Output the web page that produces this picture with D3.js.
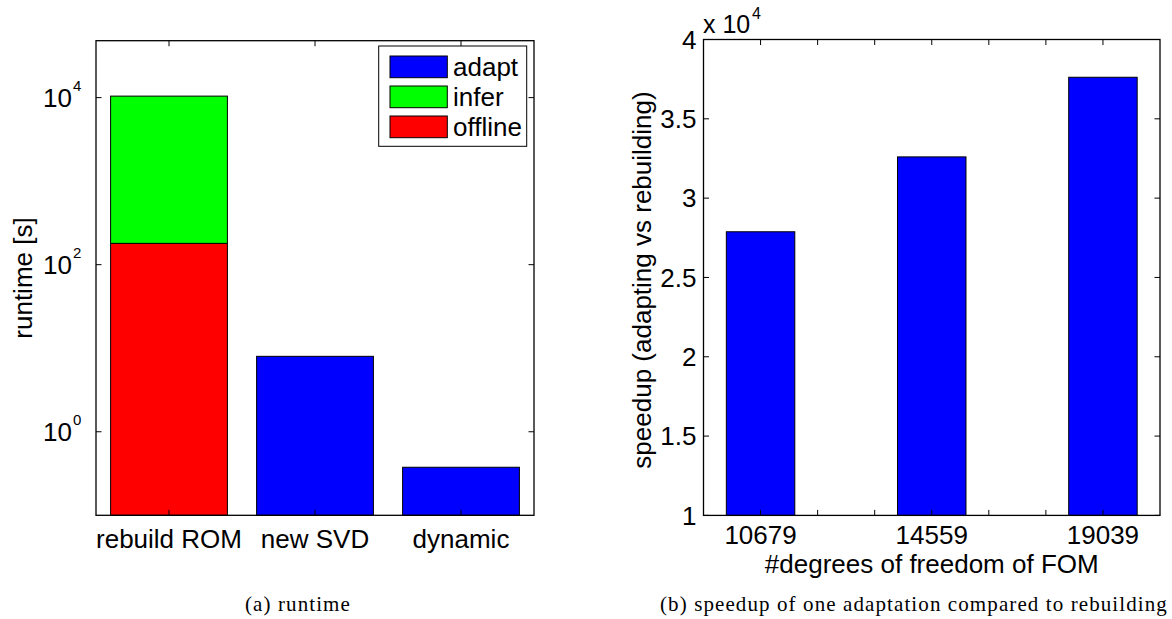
<!DOCTYPE html>
<html>
<head>
<meta charset="utf-8">
<script src="https://cdn.jsdelivr.net/npm/d3@7"></script>
<style>
  html, body { margin: 0; padding: 0; background: #fff; }
  svg { display: block; }
  .ax text { font-family: "Liberation Sans", Arial, Helvetica, sans-serif; fill: #000; }
  .cap { font-family: "Liberation Serif", "Times New Roman", serif; font-size: 21px; letter-spacing: 1.1px; fill: #000; }
</style>
</head>
<body>
<script>
// ---- runtime panel (log scale, stacked first bar) ----
const runCategories = ["rebuild ROM", "new SVD", "dynamic"];
const runOffline = [180, 0, 0];
const runInfer = [10240, 0, 0];
const runAdapt = [0, 8.0, 0.376];
const runSeries = ["adapt", "infer", "offline"];
const runTickValues = [1, 100, 10000];
const runTickExponents = ["0", "2", "4"];

// ---- speedup panel ----
const dofCategories = ["10679", "14559", "19039"];
const speedupValues = [27880, 32600, 37620];
const speedupTicks = [10000, 15000, 20000, 25000, 30000, 35000, 40000];
const speedupTickLabels = ["1", "1.5", "2", "2.5", "3", "3.5", "4"];

const colors = { adapt: "#0000ff", infer: "#00ff00", offline: "#ff0000" };
const FS = 26;
const TICK = 5.5;

const svg = d3.select("body").append("svg")
  .attr("width", 1172).attr("height", 619);

// ===================== Panel (a) =====================
{
  const L = 96, R = 534, T = 40.7, B = 515.3;
  const g = svg.append("g").attr("class", "ax");
  const x = d3.scaleLinear().domain([0.5, 3.5]).range([L, R]);
  const y = d3.scaleLog().domain([0.1, 4.8e4]).range([B, T]);
  const bw = 0.8;

  // bars: stack offline -> infer, then adapt bars
  runCategories.forEach((c, i) => {
    const xc = i + 1;
    const x0 = x(xc - bw / 2), x1 = x(xc + bw / 2);
    let base = y.domain()[0];
    const parts = [["offline", runOffline[i]], ["infer", runInfer[i]], ["adapt", runAdapt[i]]];
    parts.forEach(([k, v]) => {
      if (v <= 0) return;
      const top = (base === y.domain()[0] ? 0 : base) + v;
      g.append("rect")
        .attr("x", x0).attr("width", x1 - x0)
        .attr("y", y(top)).attr("height", y(base) - y(top))
        .attr("fill", colors[k]).attr("stroke", "#000").attr("stroke-width", 1);
      base = top;
    });
  });

  // box
  g.append("rect").attr("x", L).attr("y", T).attr("width", R - L).attr("height", B - T)
    .attr("fill", "none").attr("stroke", "#000").attr("stroke-width", 1.3);

  // y ticks (both sides, inward) + labels 10^n
  runTickValues.forEach((v, i) => {
    const yy = y(v);
    g.append("line").attr("x1", L).attr("x2", L + TICK).attr("y1", yy).attr("y2", yy).attr("stroke", "#000");
    g.append("line").attr("x1", R).attr("x2", R - TICK).attr("y1", yy).attr("y2", yy).attr("stroke", "#000");
    g.append("text").attr("x", L - 24).attr("y", yy).attr("dy", "0.35em")
      .attr("text-anchor", "end").attr("font-size", FS).text("10");
    g.append("text").attr("x", L - 23).attr("y", yy - 7)
      .attr("text-anchor", "start").attr("font-size", 15).text(runTickExponents[i]);
  });

  // x ticks (bottom and top, inward) + labels
  runCategories.forEach((c, i) => {
    const xx = x(i + 1);
    g.append("line").attr("x1", xx).attr("x2", xx).attr("y1", B).attr("y2", B - TICK).attr("stroke", "#000");
    g.append("line").attr("x1", xx).attr("x2", xx).attr("y1", T).attr("y2", T + TICK).attr("stroke", "#000");
    g.append("text").attr("x", xx).attr("y", 548).attr("text-anchor", "middle")
      .attr("font-size", FS).text(c);
  });

  // y label
  g.append("text").attr("transform", "translate(23,278) rotate(-90)")
    .attr("dy", "0.35em").attr("text-anchor", "middle").attr("font-size", FS).text("runtime [s]");

  // legend
  const lg = g.append("g");
  lg.append("rect").attr("x", 378.7).attr("y", 46).attr("width", 148).attr("height", 100.3)
    .attr("fill", "#fff").attr("stroke", "#000").attr("stroke-width", 1);
  runSeries.forEach((s, i) => {
    const ry = 56 + i * 30;
    lg.append("rect").attr("x", 390).attr("y", ry).attr("width", 57.3).attr("height", 21.7)
      .attr("fill", colors[s]).attr("stroke", "#000").attr("stroke-width", 1);
    lg.append("text").attr("x", 453).attr("y", ry + 11).attr("dy", "0.35em")
      .attr("font-size", FS).text(s);
  });
}

// ===================== Panel (b) =====================
{
  const L = 703.5, R = 1160, T = 39.5, B = 515.4;
  const g = svg.append("g").attr("class", "ax");
  const x = d3.scaleLinear().domain([2 / 3, 10 / 3]).range([L, R]);
  const y = d3.scaleLinear().domain([10000, 40000]).range([B, T]);
  const bw = 0.4;

  speedupValues.forEach((v, i) => {
    const xc = i + 1;
    g.append("rect")
      .attr("x", x(xc - bw / 2)).attr("width", x(xc + bw / 2) - x(xc - bw / 2))
      .attr("y", y(v)).attr("height", B - y(v))
      .attr("fill", colors.adapt).attr("stroke", "#000").attr("stroke-width", 1);
  });

  g.append("rect").attr("x", L).attr("y", T).attr("width", R - L).attr("height", B - T)
    .attr("fill", "none").attr("stroke", "#000").attr("stroke-width", 1.3);

  speedupTicks.forEach((v, i) => {
    const yy = y(v);
    g.append("line").attr("x1", L).attr("x2", L + TICK).attr("y1", yy).attr("y2", yy).attr("stroke", "#000");
    g.append("line").attr("x1", R).attr("x2", R - TICK).attr("y1", yy).attr("y2", yy).attr("stroke", "#000");
    g.append("text").attr("x", L - 7).attr("y", yy).attr("dy", "0.35em")
      .attr("text-anchor", "end").attr("font-size", FS).text(speedupTickLabels[i]);
  });

  // x ticks every third of a category step
  d3.range(0, 7).map(k => 1 + k / 3).forEach(v => {
    const xx = x(v);
    g.append("line").attr("x1", xx).attr("x2", xx).attr("y1", B).attr("y2", B - TICK).attr("stroke", "#000");
    g.append("line").attr("x1", xx).attr("x2", xx).attr("y1", T).attr("y2", T + TICK).attr("stroke", "#000");
  });
  dofCategories.forEach((c, i) => {
    g.append("text").attr("x", x(i + 1)).attr("y", 544).attr("text-anchor", "middle")
      .attr("font-size", FS).text(c);
  });

  // exponent multiplier
  g.append("text").attr("x", 703).attr("y", 33).attr("font-size", FS - 1).text("x 10");
  g.append("text").attr("x", 752).attr("y", 19).attr("font-size", 16).text("4");

  g.append("text").attr("x", (L + R) / 2).attr("y", 573).attr("text-anchor", "middle")
    .attr("font-size", FS).text("#degrees of freedom of FOM");
  g.append("text").attr("transform", "translate(642,280) rotate(-90)")
    .attr("dy", "0.35em").attr("text-anchor", "middle").attr("font-size", FS)
    .text("speedup (adapting vs rebuilding)");
}

// ===================== captions =====================
svg.append("text").attr("class", "cap").attr("x", 298).attr("y", 611)
  .attr("text-anchor", "middle").text("(a) runtime");
svg.append("text").attr("class", "cap").attr("x", 914).attr("y", 611)
  .attr("text-anchor", "middle").text("(b) speedup of one adaptation compared to rebuilding");
</script>
</body>
</html>
